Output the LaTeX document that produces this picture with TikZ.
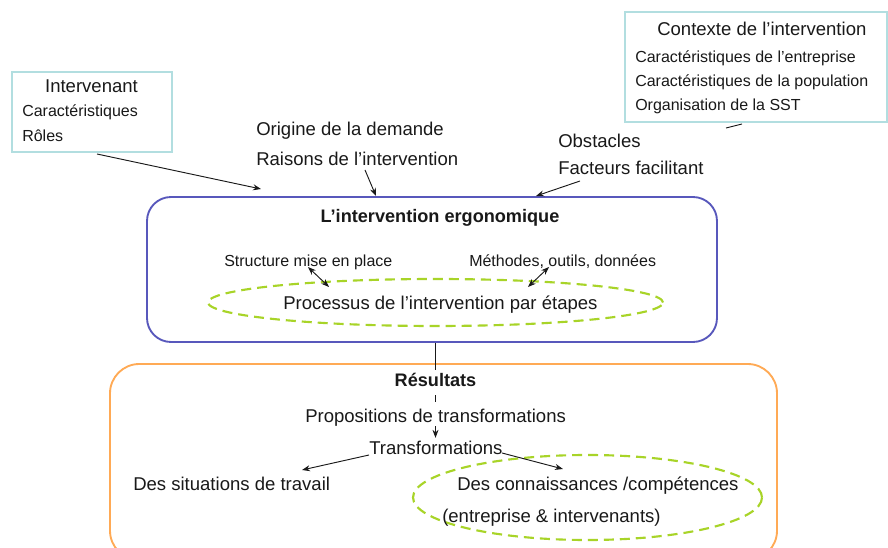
\documentclass[tikz,border=0pt]{standalone}
\usepackage{fontspec}
\setmainfont{Liberation Sans}
\usetikzlibrary{arrows.meta,fit,shapes.geometric}
\definecolor{ergoblue}{RGB}{88,88,188}
\definecolor{resorange}{RGB}{255,170,85}
\definecolor{boxcyan}{RGB}{178,222,224}
\definecolor{elgreen}{RGB}{168,212,40}
\definecolor{txt}{RGB}{25,25,25}
\tikzset{
 big/.style={font=\fontsize{13.9pt}{16pt}\selectfont, text=txt, inner sep=0pt},
 small/.style={font=\fontsize{12pt}{14pt}\selectfont, text=txt, inner sep=0pt},
 ttl/.style={font=\bfseries\fontsize{13.6pt}{16pt}\selectfont, text=txt, inner sep=0pt},
 cyanbox/.style={draw=boxcyan, line width=1.8pt, inner sep=0pt},
 ergobox/.style={draw=ergoblue, line width=1.4pt, rounded corners=18pt, inner sep=0pt},
 resbox/.style={draw=resorange, line width=1.4pt, rounded corners=22pt, inner sep=0pt},
 greenell/.style={draw=elgreen, line width=1.6pt, dash pattern=on 7.5pt off 4.5pt, ellipse, inner sep=0pt},
 arr/.style={-{Stealth[length=6pt,width=4.5pt]}, line width=0.7pt, draw=txt},
 darr/.style={{Stealth[length=6pt,width=4.5pt]}-{Stealth[length=6pt,width=4.5pt]}, line width=0.7pt, draw=txt},
 link/.style={line width=0.7pt, draw=txt},
}
\begin{document}
\begin{tikzpicture}[x=0.75pt,y=-0.75pt]
\useasboundingbox (0,0) rectangle (888,548);
\fill[white] (0,0) rectangle (888,548);
\clip (0,0) rectangle (888,548);

% boxes
\node[cyanbox, fit={(12,72) (172,152)}] (intbox) {};
\node[cyanbox, fit={(625,12) (887,122)}] (ctxbox) {};
\node[ergobox, fit={(147,197) (717,342)}] (ergo) {};
\node[resbox, fit={(110,364) (777,560)}] (resbox) {};

% ellipses
\node[greenell, minimum width=341.25pt, minimum height=35.25pt] (procell) at (435.5,302.5) {};
\node[greenell, minimum width=261.75pt, minimum height=63.75pt] (connell) at (587.5,497.5) {};

% Intervenant
\node[big, anchor=base] (inttitle) at (91.5,93) {Intervenant};
\node[small, anchor=base west] (intc) at (22,117) {Caractéristiques};
\node[small, anchor=base west] (intr) at (22,142) {Rôles};

% Contexte
\node[big, anchor=base west] (ctxtitle) at (657,36) {Contexte de l’intervention};
\node[small, anchor=base west] (ctx1) at (635,63) {Caractéristiques de l’entreprise};
\node[small, anchor=base west] (ctx2) at (635,87) {Caractéristiques de la population};
\node[small, anchor=base west] (ctx3) at (635,111) {Organisation de la SST};

% middle top texts
\node[big, anchor=base west] (orig) at (256,136) {Origine de la demande};
\node[big, anchor=base west] (rais) at (256,166) {Raisons de l’intervention};
\node[big, anchor=base west] (obst) at (558,148) {Obstacles};
\node[big, anchor=base west] (fact) at (558,175) {Facteurs facilitant};

% ergo box content
\node[ttl, anchor=base] (ergotitle) at (440,223) {L’intervention ergonomique};
\node[small, anchor=base west] (struct) at (224,267) {Structure mise en place};
\node[small, anchor=base west] (meth) at (469,267) {Méthodes, outils, données};
\node[big, anchor=base west] (proc) at (283,310) {Processus de l’intervention par étapes};

% results content
\node[ttl, anchor=base, inner ysep=2.25pt] (res) at (435.5,387) {Résultats};
\node[big, anchor=base west] (prop) at (305,422) {Propositions de transformations};
\node[big, anchor=base west] (trans) at (369,455) {Transformations};
\node[big, anchor=base west] (sit) at (133,490) {Des situations de travail};
\node[big, anchor=base west] (conn) at (457,490) {Des connaissances /compétences};
\node[big, anchor=base west] (entr) at (442,522) {(entreprise \& intervenants)};

% connector end points
\coordinate (a1s) at (97,154);
\coordinate (a1e) at (261,189);
\coordinate (a2s) at (365,170);
\coordinate (a2e) at (376,196);
\coordinate (a3s) at (580,181);
\coordinate (a3e) at (536,196);
\coordinate (c1s) at (726,128);
\coordinate (c1e) at (742,124);
\coordinate (d1s) at (308,267);
\coordinate (d1e) at (329,287);
\coordinate (d2s) at (549,267);
\coordinate (d2e) at (528,287);
\coordinate (t1e) at (302,470);
\coordinate (t2s) at (502,453);
\coordinate (t2e) at (563,469);

% connectors
\draw[arr] (a1s) -- (a1e);
\draw[arr] (a2s) -- (a2e);
\draw[arr] (a3s) -- (a3e);
\draw[link] (c1s) -- (c1e);
\draw[darr] (d1s) -- (d1e);
\draw[darr] (d2s) -- (d2e);
\draw[link] (ergo.south -| res.north) -- (res.north);
\draw[link, shorten <=3.75pt, shorten >=5pt] (res.south) -- (res.south |- prop.north);
\draw[arr, shorten >=2.6pt] (res.south |- prop.south) -- (res.south |- trans.north);
\draw[arr] (trans.base west) -- (t1e);
\draw[arr] (t2s) -- (t2e);
\end{tikzpicture}
\end{document}
